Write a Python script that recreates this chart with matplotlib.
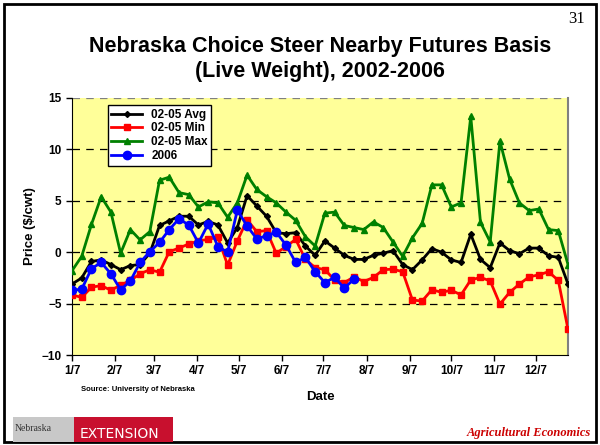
import matplotlib
matplotlib.use("Agg")
import matplotlib.pyplot as plt
from matplotlib.patches import Rectangle

plt.rcParams["font.family"] = ["Liberation Sans", "DejaVu Sans"]

# Datos semanales (dias desde 1/7)
dias = [7 * i for i in range(52)]
avg_02_05 = [-3.1, -2.5, -0.9, -0.75, -1.2, -1.7, -1.3, -1.2, -0.1, 2.6,
             3.05, 3.5, 3.5, 2.65, 3.0, 2.65, 0.9, 2.4, 5.5, 4.5,
             3.5, 1.9, 1.8, 1.9, 0.6, -0.3, 1.1, 0.4, -0.3, -0.7,
             -0.7, -0.3, -0.1, 0.15, -1.2, -1.7, -0.75, 0.35, 0.0, -0.75,
             -1.0, 1.75, -0.7, -1.5, 0.9, 0.15, -0.15, 0.4, 0.4, -0.35,
             -0.5, -3.1]
min_02_05 = [-4.15, -4.4, -3.4, -3.25, -3.7, -3.2, -2.75, -2.1, -1.7, -1.95,
             0.05, 0.4, 0.8, 1.1, 1.25, 1.45, -1.25, 1.1, 3.15, 2.0,
             2.1, -0.1, 0.55, 1.25, -0.7, -1.5, -1.7, -2.7, -2.95, -2.4,
             -2.85, -2.45, -1.7, -1.65, -1.9, -4.65, -4.75, -3.65, -3.9, -3.7,
             -4.15, -2.7, -2.45, -2.8, -5.05, -3.9, -3.1, -2.4, -2.2, -1.9,
             -2.75, -7.5]
max_02_05 = [-1.8, -0.4, 2.7, 5.4, 3.9, -0.1, 2.2, 1.2, 2.0, 7.0,
             7.3, 5.8, 5.6, 4.4, 4.9, 4.8, 3.4, 4.8, 7.5, 6.1,
             5.4, 4.8, 3.9, 3.1, 1.5, 0.6, 3.8, 3.9, 2.6, 2.4,
             2.2, 2.95, 2.4, 1.0, -0.4, 1.4, 2.8, 6.55, 6.55, 4.4,
             4.8, 13.2, 2.9, 1.0, 10.8, 7.1, 4.8, 4.05, 4.2, 2.2,
             2.1, -1.2]
y2006 = [-3.7, -3.6, -1.6, -1.0, -2.1, -3.65, -2.8, -1.0, 0.05, 0.95,
         2.2, 3.25, 2.65, 0.9, 2.75, 0.55, 0.0, 4.1, 2.55, 1.3,
         1.6, 1.95, 0.7, -1.0, -0.5, -1.9, -2.95, -2.45, -3.5, -2.6]

tick_dias = [0, 31, 59, 90, 120, 151, 181, 212, 243, 273, 304, 334]
tick_labels = ["1/7", "2/7", "3/7", "4/7", "5/7", "6/7", "7/7", "8/7",
               "9/7", "10/7", "11/7", "12/7"]

fig = plt.figure(figsize=(6, 4.45), dpi=100)
ax = fig.add_axes([0.12, 0.2022, 0.8267, 0.5776])
ax.set_facecolor("#FFFF99")

for v in [5, 10, 15, 0, -5]:
    ax.axhline(v, color="black" if v != 15 else "gray", lw=0.9,
               ls=(0, (6, 5)), zorder=1)

ax.plot(dias, avg_02_05, color="black", marker="D", ms=3, lw=2, label="02-05 Avg", zorder=3)
ax.plot(dias, min_02_05, color="#FF0000", marker="s", ms=5, lw=2, label="02-05 Min", zorder=3)
ax.plot(dias, max_02_05, color="#008000", marker="^", ms=5, lw=2, label="02-05 Max", zorder=3)
ax.plot(dias[:len(y2006)], y2006, color="#0000FF", marker="o", ms=6, lw=2, label="2006", zorder=4)

ax.set_xlim(0, 357)
ax.set_ylim(-10, 15)
ax.set_yticks([-10, -5, 0, 5, 10, 15])
ax.set_xticks(tick_dias)
ax.set_xticklabels(tick_labels)
for lab in ax.get_xticklabels() + ax.get_yticklabels():
    lab.set_fontweight("bold")
    lab.set_fontsize(8.5)
ax.tick_params(direction="out", length=4, width=1)
ax.spines["top"].set_visible(False)
ax.spines["right"].set_color("gray")
ax.spines["right"].set_linewidth(1.5)

ax.set_ylabel("Price ($/cwt)", fontsize=9.5, fontweight="bold", labelpad=4)
ax.set_xlabel("Date", fontsize=9.5, fontweight="bold", labelpad=10)

leg = ax.legend(loc="upper left", bbox_to_anchor=(0.06, 0.995),
                prop={"weight": "bold", "size": 8.5}, fancybox=False,
                edgecolor="black", framealpha=1, borderpad=0.3,
                labelspacing=0.15, handlelength=2.6)
leg.get_frame().set_linewidth(1)

fig.text(0.533, 0.895, "Nebraska Choice Steer Nearby Futures Basis",
         ha="center", va="center", fontsize=15.5, fontweight="bold")
fig.text(0.533, 0.840, "(Live Weight), 2002-2006",
         ha="center", va="center", fontsize=15.5, fontweight="bold")
fig.text(0.975, 0.957, "31", ha="right", va="center", fontsize=12,
         family="Liberation Serif")
fig.text(0.135, 0.125, "Source: University of Nebraska", ha="left",
         va="center", fontsize=5.5, fontweight="bold")

# Marco de la diapositiva
fig.add_artist(Rectangle((0.006, 0.007), 0.988, 0.985, transform=fig.transFigure,
                         fill=False, edgecolor="black", lw=2))
# Logo
fig.add_artist(Rectangle((0.022, 0.007), 0.102, 0.055, transform=fig.transFigure,
                         facecolor="#C8C8C8", edgecolor="none"))
fig.add_artist(Rectangle((0.124, 0.007), 0.165, 0.055, transform=fig.transFigure,
                         facecolor="#C8102E", edgecolor="none"))
fig.text(0.025, 0.036, "Nebraska", fontsize=7, family="Liberation Serif",
         ha="left", va="center", color="#333333")
fig.text(0.132, 0.025, "EXTENSION", fontsize=10, color="white",
         ha="left", va="center", family="Liberation Sans Narrow")
fig.text(0.985, 0.027, "Agricultural Economics", ha="right", va="center",
         fontsize=9, fontweight="bold", style="italic", color="#CC0000",
         family="Liberation Serif")

fig.savefig("out.png", dpi=100)
